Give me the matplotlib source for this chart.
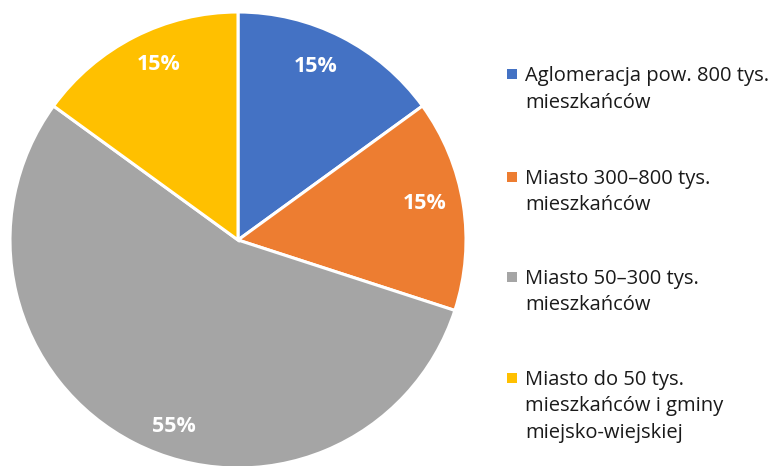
import matplotlib.pyplot as plt
from matplotlib.patches import Rectangle

categories = ['Aglomeracja pow. 800 tys.\nmieszkańców',
              'Miasto 300–800 tys.\nmieszkańców',
              'Miasto 50–300 tys.\nmieszkańców',
              'Miasto do 50 tys.\nmieszkańców i gminy\nmiejsko-wiejskiej']
shares = [15, 15, 55, 15]
colors = ['#4472C4', '#ED7D31', '#A5A5A5', '#FFC000']

W, H = 773, 466
fig = plt.figure(figsize=(W / 100, H / 100), dpi=100)

# pie: centre at (238, 240) px from top-left, radius 228 px
cx, cy, r = 238, 240, 228
ax = fig.add_axes([(cx - r) / W, (H - cy - r) / H, 2 * r / W, 2 * r / H])

wedges, texts, autotexts = ax.pie(
    shares, colors=colors, startangle=90, counterclock=False, radius=1,
    autopct='%d%%', pctdistance=0.83,
    wedgeprops=dict(edgecolor='white', linewidth=2.2),
    textprops=dict(color='white', fontsize=15.5, fontweight='bold', family='Open Sans'))
ax.set_xlim(-1, 1)
ax.set_ylim(-1, 1)
ax.axis('off')
for w in wedges:
    w.set_clip_on(False)
# nudge labels the way the original places them
autotexts[0].set_position((0.34, 0.76))
autotexts[1].set_position((0.82, 0.16))
autotexts[2].set_position((-0.28, -0.82))
autotexts[3].set_position((-0.35, 0.77))

# legend drawn by hand
fs = 14.5
y_first = [74, 177, 277, 378]
for cat, col, y0 in zip(categories, colors, y_first):
    fig.patches.append(Rectangle((507 / W, (H - y0 - 5) / H), 10 / W, 10 / H,
                                 transform=fig.transFigure, facecolor=col, edgecolor='none'))
    for i, line in enumerate(cat.split('\n')):
        fig.text(525 / W, (H - (y0 + 2 + i * 26.5)) / H, line, fontsize=fs,
                 family='Open Sans', color='#1a1a1a', va='center', ha='left')

fig.savefig('out.png', dpi=100)
